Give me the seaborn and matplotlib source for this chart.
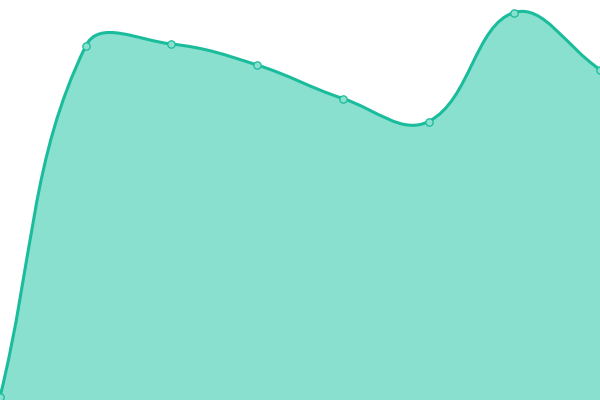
import numpy as np
import seaborn as sns
import matplotlib.pyplot as plt
from matplotlib.path import Path
from matplotlib.patches import PathPatch

# values (chart units, 0 = bottom, 400 = top)
labels = ["1", "2", "3", "4", "5", "6", "7", "8"]
values = [3, 354, 356, 335, 301.5, 278.5, 387.5, 330.5]

line_color = "#1abc9c"
fill_color = "#89e0cf"
tension = 0.4

xs = np.linspace(0, 600, len(values))
ys = np.array(values, dtype=float)
pts = np.column_stack([xs, ys])


def spline_controls(p, t):
    # Chart.js style cubic spline control points
    n = len(p)
    cps = []
    for i in range(n):
        prev = p[i - 1] if i > 0 else p[i]
        nxt = p[i + 1] if i < n - 1 else p[i]
        d01 = np.hypot(*(p[i] - prev))
        d12 = np.hypot(*(nxt - p[i]))
        tot = d01 + d12
        s01 = d01 / tot if tot else 0
        s12 = d12 / tot if tot else 0
        v = nxt - prev
        cps.append((p[i] - t * s01 * v, p[i] + t * s12 * v))
    return cps


cps = spline_controls(pts, tension)
verts = [tuple(pts[0])]
codes = [Path.MOVETO]
for i in range(1, len(pts)):
    verts += [tuple(cps[i - 1][1]), tuple(cps[i][0]), tuple(pts[i])]
    codes += [Path.CURVE4] * 3

sns.set_style("white")
fig = plt.figure(figsize=(6, 4), dpi=100)
ax = fig.add_axes([0, 0, 1, 1])

area = Path(verts + [(600, 0), (0, 0), verts[0]],
            codes + [Path.LINETO, Path.LINETO, Path.CLOSEPOLY])
ax.add_patch(PathPatch(area, facecolor=fill_color, edgecolor="none"))
ax.add_patch(PathPatch(Path(verts, codes), facecolor="none",
                       edgecolor=line_color, linewidth=2.2, capstyle="round"))

sns.scatterplot(x=xs, y=ys, ax=ax, s=28, color=fill_color,
                edgecolor=line_color, linewidth=0.9, zorder=5)

ax.set_xlim(0, 600)
ax.set_ylim(0, 400)
ax.axis("off")
fig.savefig("out.png", dpi=100)
